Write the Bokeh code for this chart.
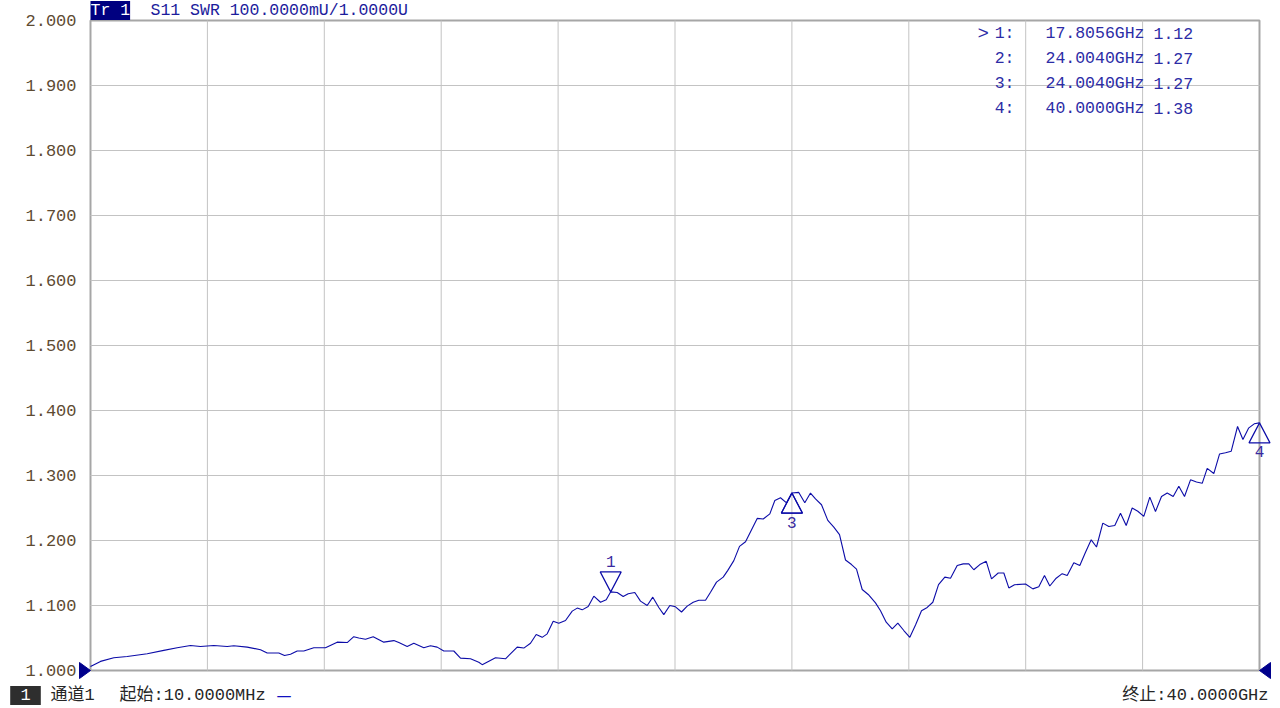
import numpy as np
from bokeh.plotting import figure
from bokeh.models import Label, PolyAnnotation, BoxAnnotation
from bokeh.core.properties import value
from bokeh.embed import file_html
from bokeh.resources import INLINE

# ---------------- data ----------------
start_ghz = 0.01
stop_ghz = 40.0
y_ticks = [1.0, 1.1, 1.2, 1.3, 1.4, 1.5, 1.6, 1.7, 1.8, 1.9, 2.0]

freq_ghz = [0.01, 0.352, 0.807, 1.265, 1.950, 2.517, 2.976, 3.431, 3.773, 4.228, 4.686, 4.912,
            5.371, 5.826, 6.055, 6.452, 6.647, 6.852, 7.081, 7.307, 7.649, 8.049, 8.449, 8.792,
            9.017, 9.188, 9.417, 9.681, 10.043, 10.386, 10.557, 10.844, 11.070, 11.412, 11.641,
            11.870, 12.096, 12.438, 12.667, 13.009, 13.293, 13.410, 13.865, 14.207, 14.607,
            14.833, 15.062, 15.257, 15.462, 15.633, 15.839, 16.030, 16.260, 16.489, 16.660,
            16.831, 17.036, 17.228, 17.457, 17.652, 17.806, 18.028, 18.233, 18.404, 18.630,
            18.825, 19.054, 19.246, 19.451, 19.622, 19.828, 20.022, 20.228, 20.423, 20.628,
            20.820, 21.049, 21.220, 21.425, 21.654, 21.812, 22.017, 22.212, 22.418, 22.817,
            23.023, 23.249, 23.420, 23.614, 23.820, 24.004, 24.240, 24.445, 24.640, 24.811,
            25.017, 25.232, 25.438, 25.633, 25.838, 26.043, 26.214, 26.409, 26.615, 26.864,
            27.035, 27.230, 27.436, 27.627, 27.833, 28.038, 28.233, 28.438, 28.633, 28.825,
            29.020, 29.236, 29.430, 29.659, 29.865, 30.056, 30.227, 30.433, 30.652, 30.833,
            31.062, 31.254, 31.425, 31.620, 31.996, 32.246, 32.450, 32.645, 32.826, 33.045,
            33.251, 33.422, 33.648, 33.853, 34.048, 34.243, 34.424, 34.640, 34.845, 35.050,
            35.245, 35.440, 35.645, 35.837, 36.042, 36.247, 36.442, 36.648, 36.843, 37.048,
            37.240, 37.435, 37.640, 37.845, 38.040, 38.211, 38.437, 38.632, 38.837, 39.033,
            39.249, 39.433, 39.625, 39.820, 40.0]

swr = [1.006, 1.014, 1.0195, 1.0215, 1.0257, 1.031, 1.035, 1.0385, 1.037, 1.0385, 1.037, 1.038,
       1.036, 1.032, 1.027, 1.027, 1.023, 1.025, 1.030, 1.030, 1.035, 1.035, 1.0436, 1.043,
       1.052, 1.050, 1.048, 1.052, 1.0436, 1.046, 1.043, 1.037, 1.042, 1.035, 1.038,
       1.036, 1.030, 1.030, 1.019, 1.018, 1.0128, 1.009, 1.0195, 1.018, 1.036,
       1.0345, 1.042, 1.0554, 1.051, 1.0564, 1.0759, 1.0728, 1.077, 1.0913, 1.096,
       1.0933, 1.0985, 1.1144, 1.105, 1.1087, 1.121, 1.120, 1.1138, 1.118, 1.120,
       1.1067, 1.100, 1.1128, 1.097, 1.086, 1.100, 1.098, 1.090, 1.099, 1.105,
       1.108, 1.108, 1.1205, 1.136, 1.1436, 1.154, 1.169, 1.191, 1.198, 1.234,
       1.233, 1.241, 1.2615, 1.2657, 1.258, 1.273, 1.274, 1.258, 1.273, 1.264,
       1.255, 1.231, 1.2205, 1.209, 1.170, 1.163, 1.156, 1.1246, 1.117, 1.104,
       1.092, 1.0744, 1.064, 1.0728, 1.0615, 1.051, 1.070, 1.092, 1.097, 1.105,
       1.132, 1.1436, 1.142, 1.1615, 1.164, 1.164, 1.155, 1.163, 1.168, 1.141,
       1.150, 1.150, 1.127, 1.132, 1.133, 1.1256, 1.129, 1.146, 1.130, 1.142,
       1.149, 1.146, 1.1657, 1.1615, 1.182, 1.201, 1.190, 1.2267, 1.2215, 1.223,
       1.242, 1.223, 1.250, 1.245, 1.237, 1.2667, 1.2446, 1.2677, 1.273, 1.2677,
       1.2836, 1.2677, 1.2933, 1.290, 1.288, 1.311, 1.303, 1.333, 1.335, 1.3374,
       1.3754, 1.3554, 1.3728, 1.3795, 1.381]

assert len(freq_ghz) == len(swr), (len(freq_ghz), len(swr))

marker_ids = ["1", "2", "3", "4"]
marker_freq_ghz = [17.8056, 24.0040, 24.0040, 40.0000]
marker_swr = [1.12, 1.27, 1.27, 1.38]
active_marker = 0

header_tag = "Tr 1"
header_text = "S11 SWR 100.0000mU/1.0000U"
channel_tag = "1"
channel_name = "通道1"
start_text = "起始:10.0000MHz"
stop_text = "终止:40.0000GHz"

# ---------------- layout (canvas pixels) ----------------
W, H = 1280, 708
PL, PR, PT, PB = 90, 1259, 20, 670      # plotting area edges
y0, y1 = 1.0, 2.0
dxp = (stop_ghz - start_ghz) / (PR - PL)   # one pixel in x data units
dyp = (y1 - y0) / (PB - PT)                # one pixel in y data units

def fx(px):
    return start_ghz + (px - PL) * dxp

def fy(py):
    return y0 + (PB - py) * dyp

MONO = "Liberation Mono"
MIX = "'Liberation Mono', 'Noto Sans CJK SC'"
BLUE = "#0c0ca8"
MK = "#2c2ca6"
GRID = "#c3c3c3"
FRAME = "#a6a6a6"
NB = "\u00a0"

p = figure(width=W, height=H, x_range=(fx(0), fx(W)), y_range=(fy(H), fy(0)),
           output_backend="svg", toolbar_location=None,
           x_axis_location=None, y_axis_location=None,
           min_border=0)
p.grid.visible = False
p.outline_line_color = None
p.background_fill_color = "white"
p.border_fill_color = "white"

# grid lines inside the plotting area
x_grid = list(np.linspace(start_ghz, stop_ghz, 11))
p.segment(x0=x_grid[1:-1], y0=[y0] * 9, x1=x_grid[1:-1], y1=[y1] * 9,
          line_color=GRID, line_width=1)
p.segment(x0=[start_ghz] * 9, y0=y_ticks[1:-1], x1=[stop_ghz] * 9, y1=y_ticks[1:-1],
          line_color=GRID, line_width=1)
# frame
p.add_layout(BoxAnnotation(left=start_ghz, right=stop_ghz, bottom=y0, top=y1,
                           fill_alpha=0, line_color=FRAME, line_alpha=1, line_width=2,
                           level="underlay"))

# y tick labels
p.text(x=[start_ghz] * len(y_ticks), y=y_ticks, text=[f"{t:.3f}" for t in y_ticks],
       x_offset=-14, text_align="right", text_baseline="middle",
       text_font=value(MONO), text_font_size="17px", text_color="#5e4b32")

# trace
p.line(freq_ghz, swr, line_color=BLUE, line_width=1.1)

# marker triangles on the trace
apex_vals = np.interp(marker_freq_ghz, freq_ghz, swr)
for i, (mid, mf, av) in enumerate(zip(marker_ids, marker_freq_ghz, apex_vals)):
    hw, hh = 10.5 * dxp, 20 * dyp
    if i == active_marker:
        ys = [av, av + hh, av + hh]
        ly = av + hh + 10 * dyp
    else:
        ys = [av, av - hh, av - hh]
        ly = av - hh - 9 * dyp
    p.add_layout(PolyAnnotation(xs=[mf, mf - hw, mf + hw], ys=ys,
                                fill_alpha=0, line_color=BLUE, line_alpha=1, line_width=1.2))
    hidden = any(marker_freq_ghz[j] == mf for j in range(i + 1, len(marker_ids)))
    if not hidden:
        p.add_layout(Label(x=mf, y=ly, text=mid, text_align="center", text_baseline="middle",
                           text_font=MONO, text_font_size="16px", text_color="#3a2aa0"))

# start / stop indicators
s = 8 * dyp
p.add_layout(PolyAnnotation(xs=[start_ghz, fx(79), fx(79)], ys=[y0, y0 + s, y0 - s],
                            fill_color="#00008c", fill_alpha=1, line_color="#00008c", line_alpha=1))
p.add_layout(PolyAnnotation(xs=[stop_ghz, fx(1270), fx(1270)], ys=[y0, y0 + s, y0 - s],
                            fill_color="#00008c", fill_alpha=1, line_color="#00008c", line_alpha=1))

# header
p.add_layout(Label(x=fx(90), y=fy(10), text=header_tag, text_align="left", text_baseline="middle",
                   text_font=MONO, text_font_size="16.5px", text_color="white",
                   background_fill_color="#000080"))
p.add_layout(Label(x=fx(150), y=fy(10), text=header_text, text_align="left", text_baseline="middle",
                   text_font=MONO, text_font_size="16.5px", text_color="#1c1c9c"))

# marker table
for i, (mid, mf, mv) in enumerate(zip(marker_ids, marker_freq_ghz, marker_swr)):
    ry = fy(33 + 25 * i)
    if i == active_marker:
        p.add_layout(Label(x=fx(977), y=ry, text=">", text_align="left", text_baseline="middle",
                           text_font=MONO, text_font_size="19px", text_color=MK))
    p.add_layout(Label(x=fx(1014), y=ry, text=f"{mid}:", text_align="right", text_baseline="middle",
                       text_font=MONO, text_font_size="16.5px", text_color=MK))
    p.add_layout(Label(x=fx(1144), y=ry, text=f"{mf:.4f}GHz", text_align="right", text_baseline="middle",
                       text_font=MONO, text_font_size="16.5px", text_color=MK))
    p.add_layout(Label(x=fx(1153), y=ry, text=f"{mv:.2f}", text_align="left", text_baseline="middle",
                       text_font=MONO, text_font_size="16.5px", text_color=MK))

# bottom status line
by = fy(695)
p.add_layout(Label(x=fx(25), y=by, text=f"{NB}{channel_tag}{NB}", text_align="center",
                   text_baseline="middle", text_font=MONO, text_font_size="17px",
                   text_color="white", background_fill_color="#2e2e2e"))
p.add_layout(Label(x=fx(50), y=by, text=channel_name, text_align="left", text_baseline="middle",
                   text_font=MIX, text_font_size="17px", text_color="#262626"))
p.add_layout(Label(x=fx(119), y=by, text=start_text, text_align="left", text_baseline="middle",
                   text_font=MIX, text_font_size="17px", text_color="#262626"))
p.add_layout(Label(x=fx(276), y=by, text="—", text_align="left", text_baseline="middle",
                   text_font="DejaVu Sans", text_font_size="15px", text_color="#1010c0"))
p.add_layout(Label(x=fx(1268), y=by, text=stop_text, text_align="right", text_baseline="middle",
                   text_font=MIX, text_font_size="17px", text_color="#262626"))

open("out.html", "w").write(file_html(p, INLINE))
